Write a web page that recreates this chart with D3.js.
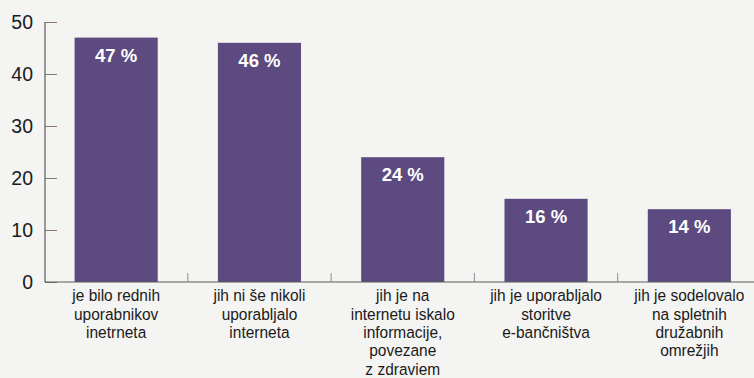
<!DOCTYPE html>
<html>
<head>
<meta charset="utf-8">
<script src="https://cdn.jsdelivr.net/npm/d3@7"></script>
<style>
  html, body { margin: 0; padding: 0; background: #f4f4f2; }
  svg { display: block; }
</style>
</head>
<body>
<svg id="chart" width="754" height="378"></svg>
<script>
// Share of respondents by internet activity
const categories = [
  ["je bilo rednih", "uporabnikov", "inetrneta"],
  ["jih ni še nikoli", "uporabljalo", "interneta"],
  ["jih je na", "internetu iskalo", "informacije,", "povezane", "z zdraviem"],
  ["jih je uporabljalo", "storitve", "e-bančništva"],
  ["jih je sodelovalo", "na spletnih", "družabnih", "omrežjih"]
];
const values = [47, 46, 24, 16, 14];
const yTicks = [0, 10, 20, 30, 40, 50];

const svg = d3.select("#chart");
const W = 754, H = 378;
const margin = { left: 46, top: 22, bottom: 96 };
const plotRight = 762.5;
const y0 = H - margin.bottom; // baseline

const x = d3.scaleBand()
  .domain(d3.range(values.length))
  .range([margin.left, plotRight])
  .paddingInner(0.42)
  .paddingOuter(0.21);

const y = d3.scaleLinear().domain([0, 50]).range([y0, margin.top]);

const barColor = "#5d4a80";
const axisColor = "#5a5a5a";
const tickColor = "#8a7474";
const shift = -1.5;
const cx = i => x(i) + shift + x.bandwidth() / 2;

// bars
svg.append("g").selectAll("rect")
  .data(values)
  .join("rect")
  .attr("x", (d, i) => x(i) + shift)
  .attr("width", x.bandwidth())
  .attr("y", d => y(d))
  .attr("height", d => y0 - y(d))
  .attr("fill", barColor);

// value labels inside bars
svg.append("g").selectAll("text")
  .data(values)
  .join("text")
  .attr("x", (d, i) => cx(i))
  .attr("y", d => y(d) + 24)
  .attr("text-anchor", "middle")
  .attr("fill", "#ffffff")
  .style("font-family", "'Liberation Sans', Arial, sans-serif")
  .style("font-weight", "bold")
  .style("font-size", "18.5px")
  .text(d => d + " %");

// y axis ticks (pointing inward)
const yAxis = d3.axisRight(y).tickValues(yTicks).tickSize(12).tickFormat("");
const gy = svg.append("g").attr("transform", `translate(${margin.left - 1},0)`).call(yAxis);
gy.select(".domain").remove();
gy.selectAll(".tick line").attr("stroke", tickColor).attr("stroke-width", 1);
svg.append("line")
  .attr("x1", margin.left - 1).attr("x2", margin.left - 1)
  .attr("y1", y(50)).attr("y2", y0)
  .attr("stroke", axisColor).attr("stroke-width", 1.2);

// y tick labels
svg.append("g").selectAll("text")
  .data(yTicks)
  .join("text")
  .attr("x", 33)
  .attr("y", d => y(d))
  .attr("dy", "0.36em")
  .attr("text-anchor", "end")
  .attr("fill", "#1a1a1a")
  .style("font-family", "'Liberation Sans', Arial, sans-serif")
  .style("font-size", "19.5px")
  .text(d => d);

// baseline
svg.append("line")
  .attr("x1", margin.left - 1).attr("x2", W)
  .attr("y1", y0).attr("y2", y0)
  .attr("stroke", axisColor).attr("stroke-width", 1.2);

// separators between categories
svg.append("g").selectAll("line")
  .data(d3.range(1, values.length))
  .join("line")
  .attr("x1", i => x(i) - x.step() * x.paddingInner() / 2 + shift)
  .attr("x2", i => x(i) - x.step() * x.paddingInner() / 2 + shift)
  .attr("y1", y0).attr("y2", y0 - 9)
  .attr("stroke", "#8a8a8a").attr("stroke-width", 1);

// category labels, condensed horizontally
const squeeze = 0.95;
const catG = svg.append("g").selectAll("g")
  .data(categories)
  .join("g")
  .attr("transform", (d, i) => `translate(${cx(i)},0) scale(${squeeze},1)`);
catG.append("text")
  .attr("text-anchor", "middle")
  .attr("fill", "#1a1a1a")
  .style("font-family", "'Liberation Sans', Arial, sans-serif")
  .style("font-size", "16.3px")
  .selectAll("tspan")
  .data(d => d)
  .join("tspan")
  .attr("x", 0)
  .attr("y", (d, j) => y0 + 19.5 + j * 18.3)
  .text(d => d);
</script>
</body>
</html>
